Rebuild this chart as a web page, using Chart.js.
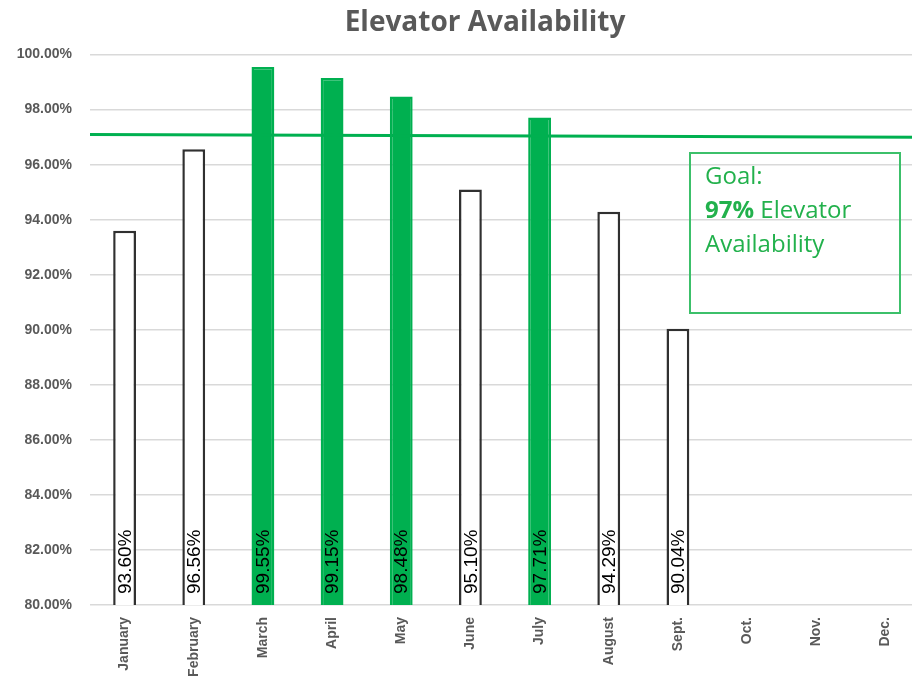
<!DOCTYPE html>
<html>
<head>
<meta charset="utf-8">
<script src="https://cdn.jsdelivr.net/npm/chart.js@4"></script>
<style>
  html, body { margin: 0; padding: 0; background: #fff; overflow: hidden; }
  #wrap { position: relative; width: 970px; height: 685px; }
  #goalBox {
    position: absolute; left: 689px; top: 152px; width: 212px; height: 162px;
    border: 2px solid #3cc06a; color: #22b14c; box-sizing: border-box;
    font-family: "Open Sans", "Liberation Sans", sans-serif; font-size: 24px; line-height: 34px;
    padding: 4px 0 0 14px;
  }
</style>
</head>
<body>
<div id="wrap">
  <canvas id="availability" width="970" height="685"></canvas>
  <div id="goalBox">Goal:<br><b>97%</b> Elevator<br>Availability</div>
</div>
<script>
const months = ['January', 'February', 'March', 'April', 'May', 'June', 'July', 'August', 'Sept.', 'Oct.', 'Nov.', 'Dec.'];
const availability = [93.60, 96.56, 99.55, 99.15, 98.48, 95.10, 97.71, 94.29, 90.04, null, null, null];
const goalEnds = [97.1, 97.0];
const goal = 97;

const green = '#00b050';
const fills = availability.map(v => v !== null && v >= goal ? green : '#ffffff');
const borders = availability.map(v => v !== null && v >= goal ? green : '#303030');

// goal line across the plot area
const goalLine = {
    id: 'goalLine',
    afterDatasetsDraw(chart) {
        const {ctx, chartArea, scales} = chart;
        ctx.save();
        ctx.strokeStyle = green;
        ctx.lineWidth = 3;
        ctx.beginPath();
        ctx.moveTo(chartArea.left, scales.y.getPixelForValue(goalEnds[0]));
        ctx.lineTo(chartArea.right, scales.y.getPixelForValue(goalEnds[1]));
        ctx.stroke();
        ctx.restore();
    }
};

// rotated value labels at the foot of each bar
const barLabels = {
    id: 'barLabels',
    afterDraw(chart) {
        const {ctx, scales} = chart;
        const baseY = scales.y.getPixelForValue(scales.y.min);
        ctx.save();
        ctx.fillStyle = '#000000';
        ctx.font = '19px "Liberation Sans", sans-serif';
        ctx.textAlign = 'left';
        ctx.textBaseline = 'middle';
        availability.forEach((v, i) => {
            if (v === null) return;
            const x = scales.x.getPixelForValue(i);
            ctx.save();
            ctx.translate(x, baseY - 11);
            ctx.rotate(-Math.PI / 2);
            ctx.fillText(v.toFixed(2) + '%', 0, 1);
            ctx.restore();
        });
        ctx.restore();
    }
};

new Chart(document.getElementById('availability').getContext('2d'), {
    type: 'bar',
    data: {
        labels: months,
        datasets: [{
            data: availability,
            backgroundColor: fills,
            borderColor: borders,
            borderWidth: 2.5,
            categoryPercentage: 1,
            barPercentage: 0.33
        }]
    },
    options: {
        responsive: false,
        animation: false,
        scales: {
            x: {
                grid: { display: false },
                border: { display: false },
                ticks: {
                    color: '#595959',
                    font: { family: '"Liberation Sans", sans-serif', size: 14, weight: 'bold' },
                    minRotation: 90,
                    maxRotation: 90,
                    padding: 4
                },
                afterFit(scale) { scale.height = 80; }
            },
            y: {
                min: 80,
                max: 100,
                grid: { color: '#d9d9d9', lineWidth: 1.5, drawTicks: false },
                border: { display: false },
                ticks: {
                    stepSize: 2,
                    color: '#595959',
                    padding: 18,
                    font: { family: '"Liberation Sans", sans-serif', size: 14, weight: 'bold' },
                    callback: v => v.toFixed(2) + '%'
                },
                afterFit(scale) { scale.width = 90; }
            },
            // empty strip on the right, past the window edge
            yRight: {
                position: 'right',
                grid: { display: false },
                border: { display: false },
                ticks: { display: false },
                afterFit(scale) { scale.width = 50; }
            }
        },
        plugins: {
            legend: { display: false },
            tooltip: { enabled: false },
            title: {
                display: true,
                text: 'Elevator Availability',
                color: '#595959',
                font: { family: '"Open Sans", sans-serif', size: 28, weight: 'bold' },
                padding: { top: 6, bottom: 15 }
            }
        }
    },
    plugins: [goalLine, barLabels]
});
</script>
</body>
</html>
